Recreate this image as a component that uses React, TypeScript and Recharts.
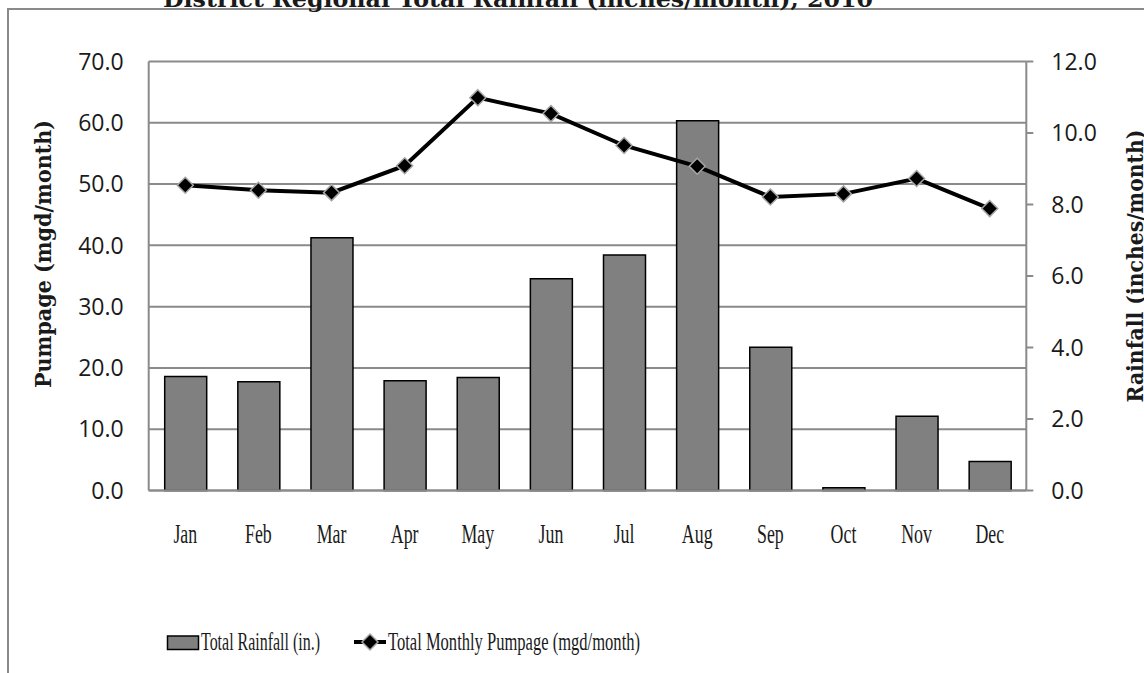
import React from "react";
import { ComposedChart, Bar, Line, XAxis, YAxis, CartesianGrid } from "recharts";

const months = ["Jan", "Feb", "Mar", "Apr", "May", "Jun", "Jul", "Aug", "Sep", "Oct", "Nov", "Dec"];
const rainfall = [3.19, 3.04, 7.07, 3.07, 3.16, 5.92, 6.59, 10.34, 4.01, 0.08, 2.08, 0.81];
const pumpage = [49.8, 49.0, 48.6, 53.0, 64.1, 61.5, 56.3, 52.9, 47.9, 48.4, 50.9, 46.0];
const leftTicks = [0, 10, 20, 30, 40, 50, 60, 70];
const rightTicks = [0, 2, 4, 6, 8, 10, 12];

const data = months.map((m, i) => ({ month: m, rain: rainfall[i], pump: pumpage[i] }));

const GRID = "#8a8a8a";
const TXT = "#1a1a1a";

function Diamond(props: any) {
    const { cx, cy } = props;
    if (cx == null || cy == null) return null;
    const r = 8;
    return (
        <polygon points={`${cx},${cy - r} ${cx + r},${cy} ${cx},${cy + r} ${cx - r},${cy}`}
                 fill="#000" stroke="#a6a6a6" strokeWidth={1.5} />
    );
}

function MonthTick(props: any) {
    const { x, y, payload } = props;
    return (
        <text x={0} y={0} textAnchor="middle" fontFamily="'Liberation Serif', serif" fontSize={27} fill={TXT}
              transform={`translate(${x},${y + 50}) scale(0.66,1)`}>
            {payload.value}
        </text>
    );
}

export default function App() {
    return (
        <div style={{ position: "relative", width: 1144, height: 673, overflow: "hidden", background: "#fff" }}>
            <style>{`body{margin:0}`}</style>
            <div style={{ position: "absolute", left: 0, top: 0 }}>
                <ComposedChart width={1144} height={673} data={data}
                               margin={{ top: 61.5, right: 17.7, left: 48.7, bottom: 122.5 }}>
                    <CartesianGrid yAxisId="left" vertical={false} stroke={GRID} strokeWidth={2} />
                    <XAxis dataKey="month" height={60} tickSize={0} tickLine={false}
                           axisLine={{ stroke: GRID, strokeWidth: 2 }} tick={<MonthTick />} interval={0} />
                    <YAxis yAxisId="left" orientation="left" width={100} domain={[0, 70]} ticks={leftTicks}
                           tickFormatter={(v) => Number(v).toFixed(1)} tickSize={0} tickMargin={25} tickLine={false}
                           axisLine={{ stroke: GRID, strokeWidth: 2 }}
                           tick={{ fill: TXT, fontSize: 23, fontFamily: "'Open Sans', sans-serif" }} />
                    <YAxis yAxisId="right" orientation="right" width={100} domain={[0, 12]} ticks={rightTicks}
                           tickFormatter={(v) => Number(v).toFixed(1)} tickSize={7} tickMargin={18}
                           tickLine={{ stroke: GRID, strokeWidth: 2 }} axisLine={{ stroke: GRID, strokeWidth: 2 }}
                           tick={{ fill: TXT, fontSize: 23, fontFamily: "'Open Sans', sans-serif" }} />
                    <Bar yAxisId="right" dataKey="rain" barSize={42} fill="#808080" stroke="#000" strokeWidth={1.5}
                         isAnimationActive={false} />
                    <Line yAxisId="left" dataKey="pump" type="linear" stroke="#000" strokeWidth={4}
                          dot={<Diamond />} activeDot={false} isAnimationActive={false} />
                </ComposedChart>
            </div>
            <svg width={1144} height={673} style={{ position: "absolute", left: 0, top: 0, pointerEvents: "none" }}>
                <rect x={8} y={9} width={1300} height={900} fill="none" stroke={GRID} strokeWidth={2} />
                <text x={163} y={7} fontFamily="'DejaVu Serif', serif" fontWeight="bold" fontSize={22} fill={TXT}
                      textLength={710} lengthAdjust="spacingAndGlyphs">
                    District Regional Total Rainfall (inches/month), 2010
                </text>
                <text x={0} y={0} textAnchor="middle" fontFamily="'DejaVu Serif', serif" fontWeight="bold" fontSize={22}
                      fill={TXT} textLength={268} lengthAdjust="spacingAndGlyphs" transform="translate(51,254) rotate(-90)">
                    Pumpage (mgd/month)
                </text>
                <text x={0} y={0} textAnchor="middle" fontFamily="'DejaVu Serif', serif" fontWeight="bold" fontSize={22}
                      fill={TXT} textLength={273} lengthAdjust="spacingAndGlyphs" transform="translate(1143,266) rotate(-90)">
                    Rainfall (inches/month)
                </text>
                <rect x={167.5} y={636} width={31} height={13.5} fill="#808080" stroke="#000" strokeWidth={1.5} />
                <text x={201} y={650} fontFamily="'Liberation Serif', serif" fontSize={26} fill={TXT}
                      textLength={119} lengthAdjust="spacingAndGlyphs">
                    Total Rainfall (in.)
                </text>
                <line x1={354} y1={642} x2={386} y2={642} stroke="#000" strokeWidth={4} />
                <Diamond cx={370} cy={642} />
                <text x={388} y={650} fontFamily="'Liberation Serif', serif" fontSize={26} fill={TXT}
                      textLength={252} lengthAdjust="spacingAndGlyphs">
                    Total Monthly Pumpage (mgd/month)
                </text>
            </svg>
        </div>
    );
}
